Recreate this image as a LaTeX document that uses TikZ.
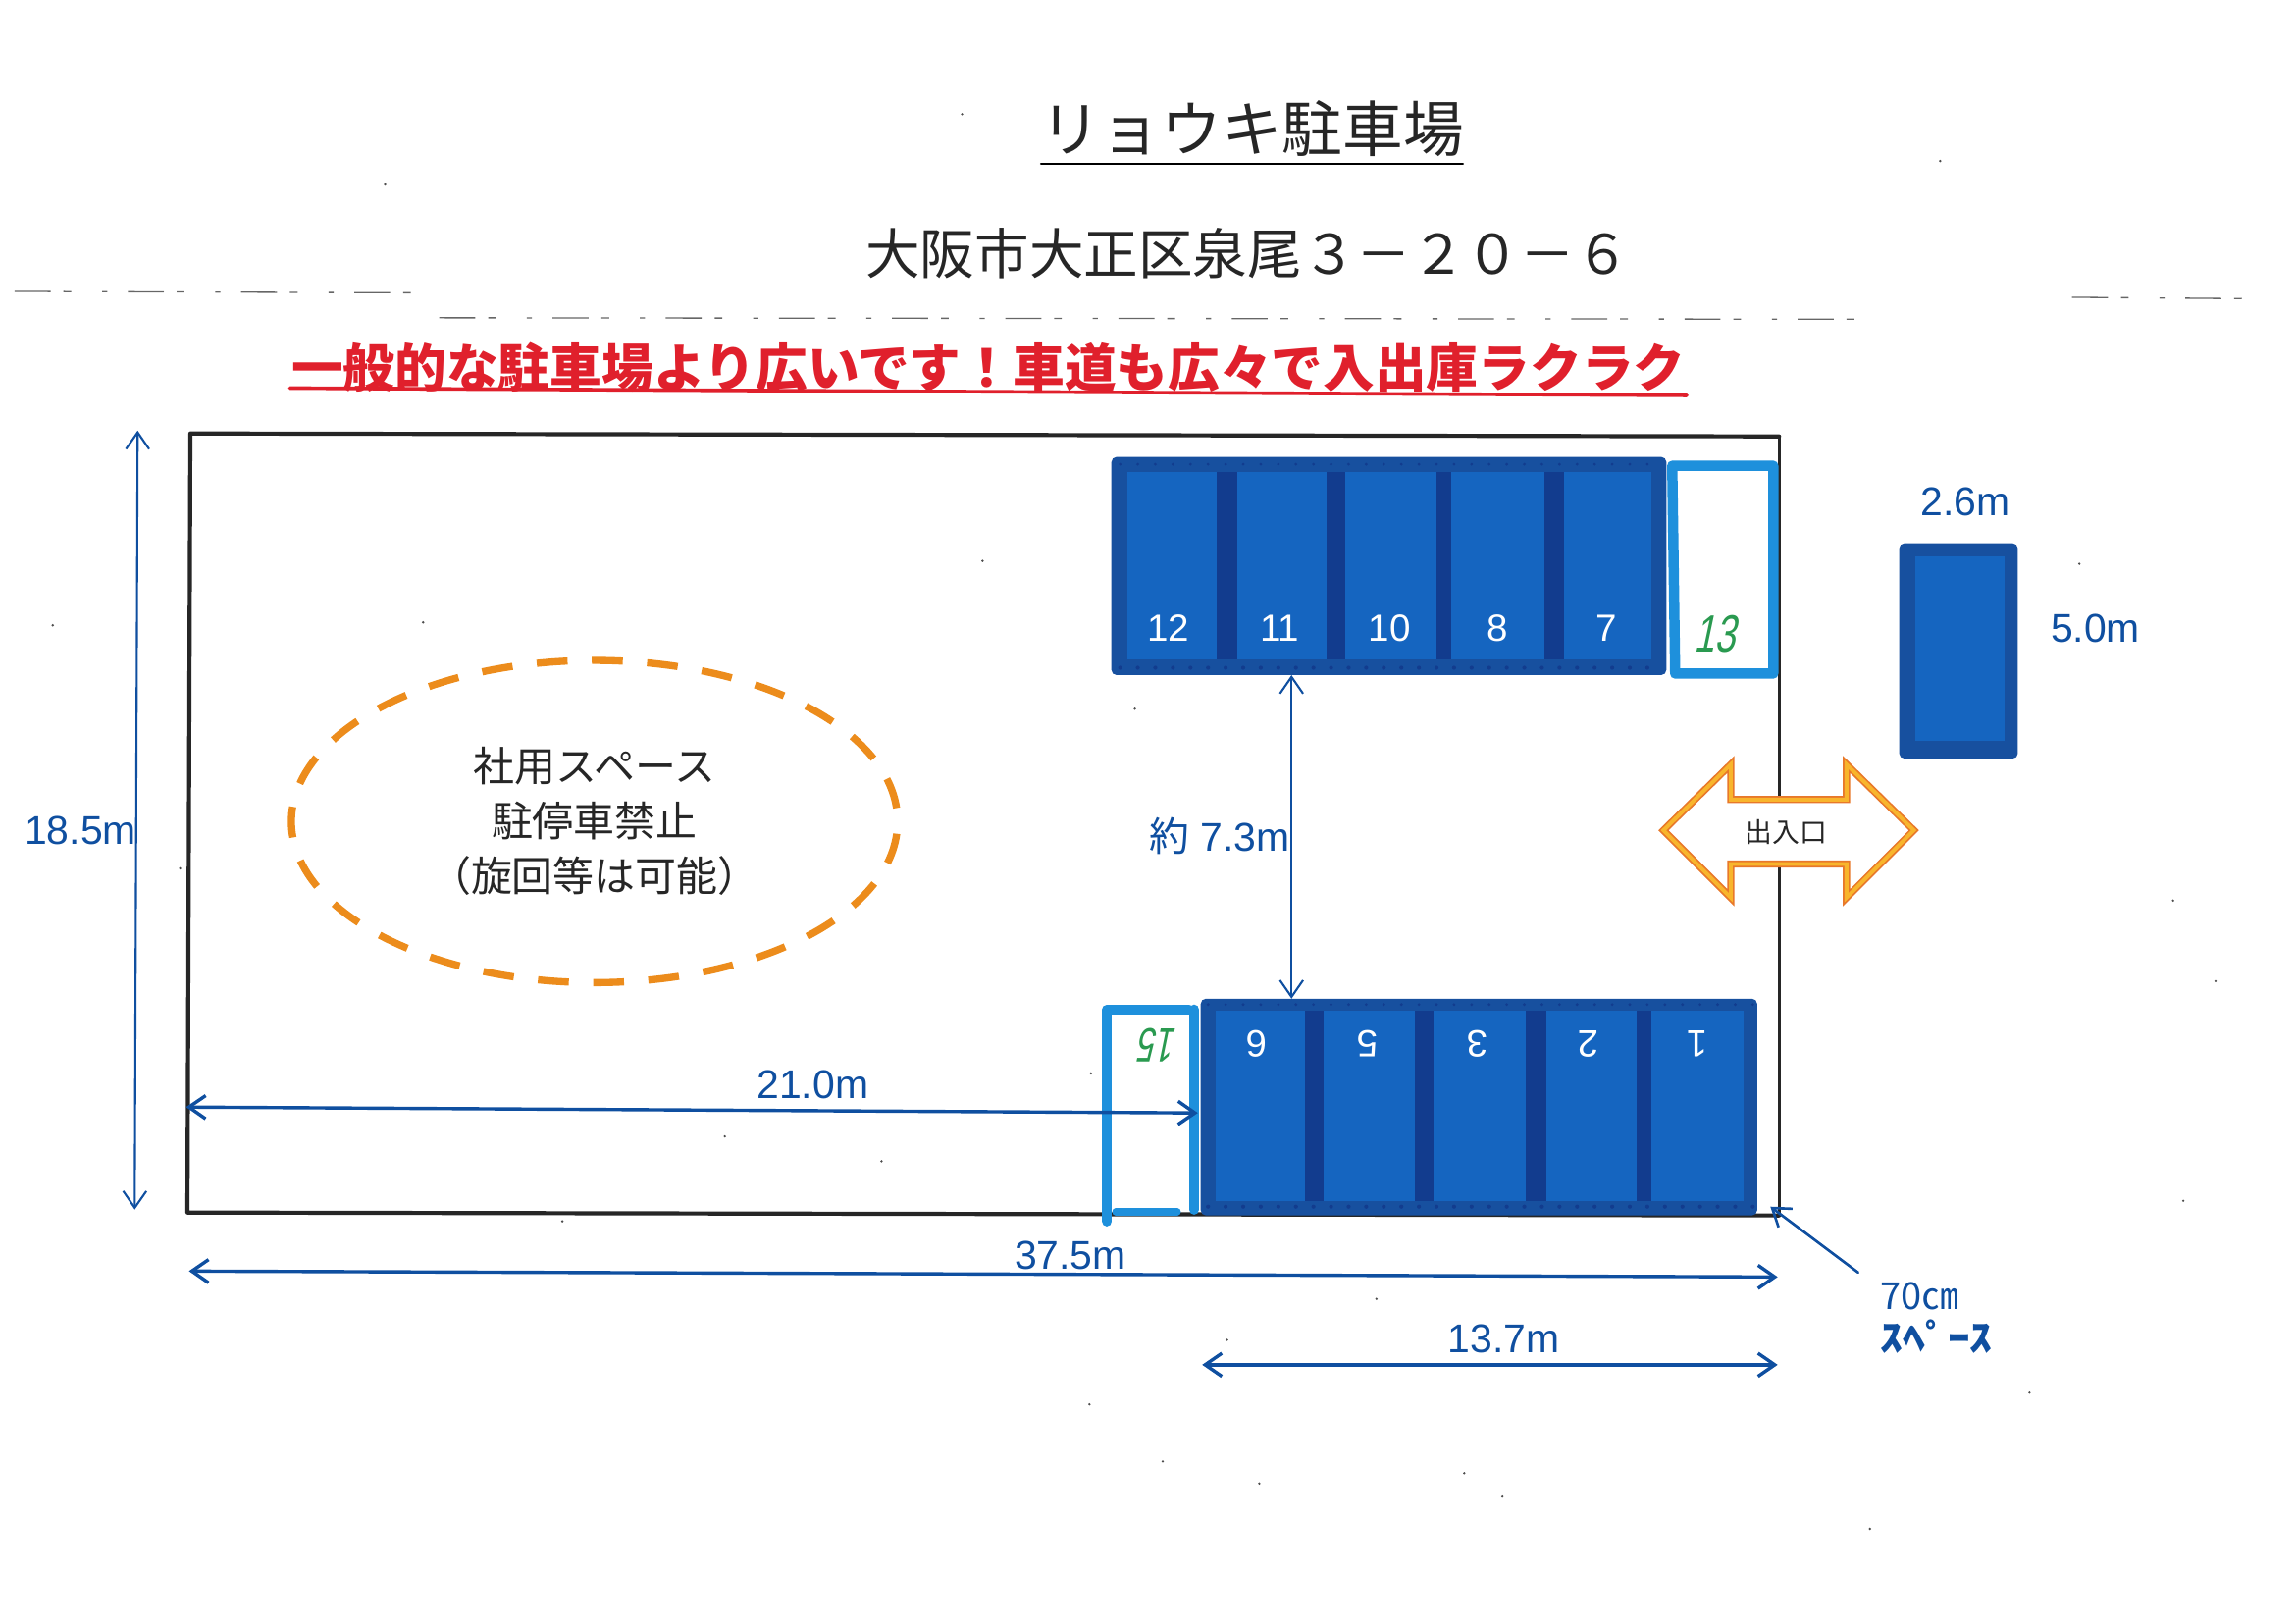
\documentclass[tikz,border=0pt]{standalone}
\usepackage{fontspec}
\setmainfont{Liberation Sans}
\newfontfamily\cjk{Noto Sans CJK JP}
\newfontfamily\penfont[FakeSlant=.3]{Liberation Sans}
\usetikzlibrary{arrows.meta}
\definecolor{dimblue}{HTML}{0F4FA0}
\definecolor{blockblue}{HTML}{17509F}
\definecolor{bayblue}{HTML}{1565C0}
\definecolor{gapblue}{HTML}{123C8E}
\definecolor{skyblue}{HTML}{1E90DC}
\definecolor{ovalorange}{HTML}{EC8C1C}
\definecolor{gateorange}{HTML}{E8782A}
\definecolor{gategold}{HTML}{F8B52C}
\definecolor{headred}{HTML}{E0202C}
\definecolor{penGreen}{HTML}{2A9A50}
\newcommand{\fsz}[1]{\fontsize{#1}{#1}\selectfont}
\tikzset{
	barbs/.style={{Straight Barb[length=6.5pt,width=9pt]}-{Straight Barb[length=6.5pt,width=9pt]}},
	dim/.style={draw=dimblue,line width=.8pt,barbs},
	dimthick/.style={draw=dimblue,line width=1.3pt,barbs},
	dimtxt/.style={text=dimblue,inner sep=0pt,font=\fsz{15.6}},
	baynum/.style={text=white,inner sep=0pt,font=\fsz{14.7}},
	pennum/.style={text=penGreen,inner sep=0pt,font=\penfont\fsz{17}},
	jptxt/.style={inner sep=0pt,text=black!85,font=\cjk\fsz{#1}},
	spare/.style={draw=skyblue,line width=4pt}
}
\begin{document}
\begin{tikzpicture}[x=.02cm,y=-.02cm,line join=round,line cap=round]
	\useasboundingbox (0,0) rectangle (1568,1108.3);
	% titles
	\node[jptxt=23.5] (title) at (855,88) {リョウキ駐車場};
	\draw[line width=1pt] (711,112)--(999,112);
	\node[jptxt=21.2] (addr) at (852,173) {大阪市大正区泉尾３－２０－６};
	% scan streaks
	\draw[black!60,line width=.5pt,line cap=butt,dash pattern=on 14pt off 5pt on 3pt off 12pt on 2pt off 8pt] (10,199)--(295,200) (300,217)--(1270,218) (1415,203)--(1540,204);
	\node[inner sep=0pt,text=headred,font=\cjk\bfseries\fsz{20.1}] (head) at (675,251) {一般的な駐車場より広いです！車道も広々で入出庫ラクラク};
	\draw[headred,line width=1.4pt] (198,265)--(1152,270);
	% site outline
	\draw[black!85,line width=1pt] (1215,298)--(1215,830);
	\draw[black!85,line width=1.6pt] (1215,298)--(130,296)--(128,828)--(1215,830);
	% upper row
	\fill[blockblue,rounded corners=2pt] (759,312) rectangle (1138,461);
	\fill[gapblue] (771,322) rectangle (1128,450);
	\foreach \xa/\xb/\num/\xn in {770/831/12/798,845/906/11/874,919/981/10/949,991/1055/8/1023,1068/1128/7/1097}{
		\fill[bayblue] (\xa,322) rectangle (\xb,450);
		\node[baynum] (upper\num) at (\xn,429) {\num};
	}
	\foreach \px in {765,777,...,1135}{
		\fill[gapblue] (\px,456) circle (.8pt);
		\fill[gapblue] (\px,317) circle (.6pt);
	}
	\draw[spare] (1142,318)--(1211,318)--(1211,460)--(1144,460)--cycle;
	\node[pennum] (spare13) at (1171,433) {\scalebox{.85}[1.2]{13}};
	% lower row
	\fill[blockblue,rounded corners=2pt] (820,682) rectangle (1200,830);
	\fill[gapblue] (830,690) rectangle (1190,820);
	\foreach \xa/\xb/\xn/\num in {830/891/858/6,904/966/934/5,979/1042/1009/3,1056/1118/1085/2,1128/1191/1159/1}{
		\fill[bayblue] (\xa,690) rectangle (\xb,820);
		\node[baynum,rotate=180] (lower\num) at (\xn,713) {\num};
	}
	\foreach \px in {825,837,...,1197}{
		\fill[gapblue] (\px,824) circle (.8pt);
		\fill[gapblue] (\px,686) circle (.6pt);
	}
	\draw[spare] (812,689.5)--(756,689.5)--(756,834);
	\draw[spare] (815.5,689.5)--(815.5,826);
	\draw[skyblue,line width=2.8pt] (762,827.5)--(804,827.5);
	\node[pennum,rotate=180] (spare15) at (792,714) {\scalebox{.75}[1.1]{15}};
	% sample space
	\fill[blockblue,rounded corners=2pt] (1297,371) rectangle (1378,518);
	\fill[bayblue] (1308,380) rectangle (1369,506);
	\node[dimtxt] (carw) at (1342,343) {2.6m};
	\node[dimtxt] (carh) at (1431,429) {5.0m};
	% no parking area
	\draw[ovalorange,line width=2.8pt,line cap=butt,dash pattern=on 12pt off 9.47pt,dash phase=16.7pt] (406,561) ellipse (207 and 110);
	\node[jptxt=16,align=center,font=\cjk\fontsize{16}{21.4}\selectfont] (oval) at (406,561) {社用スペース\\駐停車禁止\\（旋回等は可能）};
	% entrance
	\draw[fill=white,draw=gateorange,line width=2.8pt,line join=miter] (1136,567)--(1182,522)--(1182,546)--(1261,546)--(1261,522)--(1307,567)--(1261,613)--(1261,590)--(1182,590)--(1182,613)--cycle;
	\draw[draw=gategold,line width=1.5pt,line join=miter] (1136,567)--(1182,522)--(1182,546)--(1261,546)--(1261,522)--(1307,567)--(1261,613)--(1261,590)--(1182,590)--(1182,613)--cycle;
	\node[jptxt=10.6] (gate) at (1220,568) {出入口};
	% dimensions
	\coordinate (hA) at (94,294);
	\coordinate (hB) at (92,826);
	\coordinate (aA) at (882,461);
	\coordinate (aB) at (882,682);
	\coordinate (dA) at (127,756);
	\coordinate (dB) at (818,760);
	\coordinate (wA) at (129,868);
	\coordinate (wB) at (1214,872);
	\coordinate (bA) at (821,932);
	\coordinate (bB) at (1214,932);
	\coordinate (sA) at (1269,869);
	\coordinate (sB) at (1209,824);
	\draw[dim] (hA)--(hB);
	\draw[dim] (aA)--(aB);
	\draw[dimthick] (dA)--(dB);
	\draw[dimthick] (wA)--(wB);
	\draw[dimthick] (bA)--(bB);
	\draw[draw=dimblue,line width=1pt,-{Straight Barb[length=6.5pt,width=9pt]}] (sA)--(sB);
	\node[dimtxt] (lenH) at (55,567) {18.5m};
	\node[dimtxt] (lenA) at (833,571) {{\cjk 約} 7.3m};
	\node[dimtxt] (lenD) at (555,741) {21.0m};
	\node[dimtxt] (lenW) at (731,857) {37.5m};
	\node[dimtxt] (lenB) at (1027,914) {13.7m};
	\node[dimtxt,anchor=west,font=\cjk\fsz{14.5}] (lenS) at (1284,885) {70㎝};
	\node[dimtxt,anchor=west,font=\cjk\bfseries\fsz{14.5}] (lenT) at (1284,913) {\scalebox{1.2}[1]{ｽﾍﾟｰｽ}};
	% specks
	\foreach \px/\py in {657/78,263/126,36/427,289/425,123/593,671/383,775/484,745/733,495/776,602/793,838/915,384/834,940/887,744/959,794/998,1000/1006,1277/1044,1386/951,1491/820,1484/615,1513/670,1325/110,1420/385,1026/1022,860/1013}{
		\fill[black!70] (\px,\py) circle (.5pt);
	}
\end{tikzpicture}
\end{document}
